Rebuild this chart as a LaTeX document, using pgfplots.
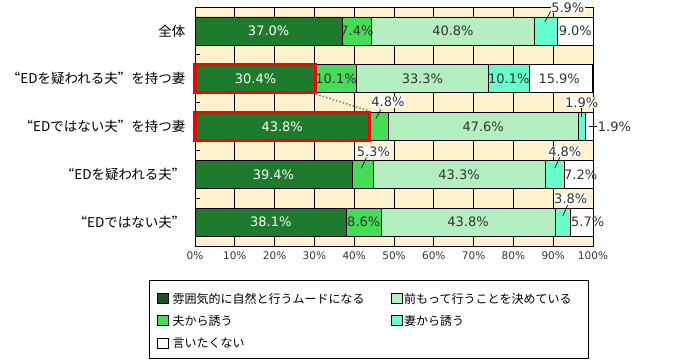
\documentclass[border=0pt]{standalone}
\usepackage{pgfplots}
\pgfplotsset{compat=1.18}
\usepackage{fontspec}
\setmainfont{Noto Sans CJK JP}
\newfontfamily\num{DejaVu Sans}
\newfontfamily\fwq[RawFeature=+fwid]{Noto Sans CJK JP}
\newcommand\lqq{{\fwq “}}
\newcommand\rqq{{\fwq ”}}
\definecolor{dkg}{HTML}{1E7A2D}
\definecolor{dkgleg}{HTML}{1A5422}
\definecolor{mdg}{HTML}{44DD55}
\definecolor{ltg}{HTML}{B5EFC0}
\definecolor{aqua}{HTML}{66FFCC}
\definecolor{cream}{HTML}{FFF2CC}
\definecolor{txt}{HTML}{333333}
\tikzset{lw/.style={font=\num\fontsize{13bp}{15bp}\selectfont, text=white, inner sep=0pt},
         lb/.style={font=\num\fontsize{13bp}{15bp}\selectfont, text=txt, inner sep=0pt},
         lc/.style={font=\num\fontsize{13bp}{15bp}\selectfont, text=txt, inner sep=0.6bp, fill=white},
         ll/.style={draw=black, line width=0.6bp}}
\newcommand\annot{%
% row 0
\node[lw] at (axis cs:18.5,0) {37.0\%};
\node[lb] at (axis cs:40.7,0) {7.4\%};
\node[lb] at (axis cs:64.8,0) {40.8\%};
\draw[ll] ([xshift=-1bp,yshift=9bp]axis cs:88.15,0) -- ([xshift=5bp,yshift=20bp]axis cs:88.15,0);
\node[lc] at ([xshift=22bp,yshift=23.5bp]axis cs:88.15,0) {5.9\%};
\node[lb] at (axis cs:95.55,0) {9.0\%};
% row 1
\node[lw] at (axis cs:15.2,1) {30.4\%};
\node[lb] at (axis cs:35.45,1) {10.1\%};
\node[lb] at (axis cs:57.15,1) {33.3\%};
\node[lb] at (axis cs:78.85,1) {10.1\%};
\node[lb] at (axis cs:91.5,1) {15.9\%};
% row 2
\node[lw] at (axis cs:21.9,2) {43.8\%};
\draw[ll] ([xshift=-3bp,yshift=8bp]axis cs:46.2,2) -- ([xshift=2bp,yshift=17bp]axis cs:46.2,2);
\node[lc] at ([xshift=9bp,yshift=24.5bp]axis cs:46.2,2) {4.8\%};
\node[lb] at (axis cs:72.4,2) {47.6\%};
\draw[ll] ([yshift=10bp]axis cs:97.15,2) -- ([yshift=19bp]axis cs:97.15,2);
\node[lc] at ([yshift=24bp]axis cs:97.15,2) {1.9\%};
\draw[ll] (axis cs:99.05,2) -- ([xshift=8bp]axis cs:99.05,2);
\node[lb, anchor=west] at ([xshift=8.5bp]axis cs:99.05,2) {1.9\%};
% row 3
\node[lw] at (axis cs:19.7,3) {39.4\%};
\draw[ll] ([xshift=-1bp,yshift=6bp]axis cs:42.05,3) -- ([xshift=4bp,yshift=17bp]axis cs:42.05,3);
\node[lc] at ([xshift=11bp,yshift=23bp]axis cs:42.05,3) {5.3\%};
\node[lb] at (axis cs:66.35,3) {43.3\%};
\draw[ll] ([yshift=6bp]axis cs:90.4,3) -- ([xshift=5bp,yshift=17bp]axis cs:90.4,3);
\node[lc] at ([xshift=10bp,yshift=23bp]axis cs:90.4,3) {4.8\%};
\node[lb] at ([xshift=2bp]axis cs:96.4,3) {7.2\%};
% row 4
\node[lw] at (axis cs:19.05,4) {38.1\%};
\node[lb] at (axis cs:42.4,4) {8.6\%};
\node[lb] at (axis cs:68.6,4) {43.8\%};
\draw[ll] ([yshift=6bp]axis cs:92.4,4) -- ([xshift=5bp,yshift=17bp]axis cs:92.4,4);
\node[lc] at ([xshift=8bp,yshift=23bp]axis cs:92.4,4) {3.8\%};
\node[lb] at ([xshift=6bp]axis cs:97.15,4) {5.7\%};
% highlight
\draw[red, line width=3bp] ([yshift=14bp]axis cs:0,1) rectangle ([yshift=-14bp]axis cs:30.4,1);
\draw[red, line width=3bp] ([yshift=14bp]axis cs:0,2) rectangle ([yshift=-14bp]axis cs:43.8,2);
\draw[gray, dotted, line width=1.5bp] ([yshift=-15.5bp]axis cs:30.4,1) -- ([yshift=15.5bp]axis cs:43.8,2);
}
\begin{document}
\begin{tikzpicture}
\path[use as bounding box] (0,0) rectangle (700bp,-360bp);
\begin{axis}[
 at={(195bp,-7bp)}, anchor=north west,
 scale only axis, width=398bp, height=239bp,
 xbar stacked, bar width=28bp,
 xmin=0, xmax=100, ymin=-0.5, ymax=4.5, y dir=reverse,
 clip=false,
 axis background/.style={fill=cream},
 axis line style={black, line width=0.8bp},
 xtick={0,10,...,100},
 xticklabels={0\%,10\%,20\%,30\%,40\%,50\%,60\%,70\%,80\%,90\%,100\%},
 xticklabel style={font=\num\fontsize{10.5bp}{12bp}\selectfont, text=txt, yshift=-2bp},
 xmajorgrids, grid style={black, line width=0.8bp},
 major tick length=0pt,
 ytick={0,1,2,3,4},
 yticklabels={全体,\lqq EDを疑われる夫\rqq を持つ妻,\lqq EDではない夫\rqq を持つ妻,\lqq EDを疑われる夫\rqq,\lqq EDではない夫\rqq},
 yticklabel style={font=\fontsize{13.5bp}{16bp}\selectfont, text=black, xshift=-6bp},
 minor ytick={0.5,1.5,2.5,3.5},
 minor tick length=5bp,
 minor tick style={black, line width=0.8bp},
 ytick pos=left, xtick pos=bottom,
 every axis plot/.append style={draw=black, line width=0.6bp},
 after end axis/.code={\annot},
]
\addplot[fill=dkg] coordinates {(37.0,0) (30.4,1) (43.8,2) (39.4,3) (38.1,4)};
\addplot[fill=mdg] coordinates {(7.4,0) (10.1,1) (4.8,2) (5.3,3) (8.6,4)};
\addplot[fill=ltg] coordinates {(40.8,0) (33.3,1) (47.6,2) (43.3,3) (43.8,4)};
\addplot[fill=aqua] coordinates {(5.9,0) (10.1,1) (1.9,2) (4.8,3) (3.8,4)};
\addplot[fill=white] coordinates {(9.0,0) (15.9,1) (1.9,2) (7.2,3) (5.7,4)};
\end{axis}
% legend
\draw[black, line width=0.8bp] (149bp,-280bp) rectangle (588bp,-358bp);
\tikzset{sq/.style={draw=black, line width=0.6bp, minimum size=10.5bp, inner sep=0pt},
         lt/.style={font=\fontsize{12bp}{14bp}\selectfont, anchor=west, inner sep=0pt, text=black}}
\node[sq, fill=dkgleg] at (163bp,-298.5bp) {};
\node[lt] at (172.5bp,-298.5bp) {雰囲気的に自然と行うムードになる};
\node[sq, fill=mdg] at (163bp,-320.5bp) {};
\node[lt] at (172.5bp,-320.5bp) {夫から誘う};
\node[sq, fill=white] at (163bp,-343.5bp) {};
\node[lt] at (172.5bp,-343.5bp) {言いたくない};
\node[sq, fill=ltg] at (397bp,-298.5bp) {};
\node[lt] at (404bp,-298.5bp) {前もって行うことを決めている};
\node[sq, fill=aqua] at (397bp,-320.5bp) {};
\node[lt] at (404bp,-320.5bp) {妻から誘う};
\end{tikzpicture}
\end{document}
